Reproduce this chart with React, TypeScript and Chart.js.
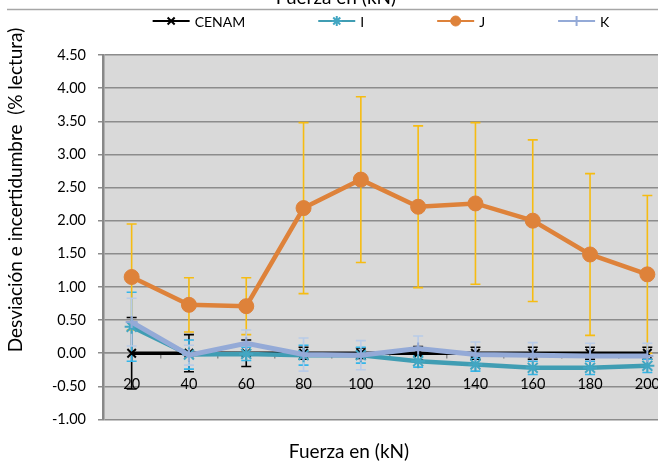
import React, { useEffect, useRef } from "react";
import { Chart, registerables } from "chart.js";
import { drawPoint } from "chart.js/helpers";

Chart.register(...registerables);

// Load steps (kN)
const categories = ["20", "40", "60", "80", "100", "120", "140", "160", "180", "200"];

// Deviation per laboratory (% of reading)
const cenam = [0, 0, 0, 0, 0, 0, 0, 0, 0, 0];
const labI = [0.4, -0.02, -0.01, -0.03, -0.03, -0.12, -0.17, -0.22, -0.22, -0.19];
const labJ = [1.15, 0.73, 0.71, 2.19, 2.62, 2.21, 2.26, 2.0, 1.49, 1.19];
const labK = [0.47, -0.03, 0.15, -0.02, -0.03, 0.07, -0.02, -0.03, -0.04, -0.04];

// Expanded uncertainty per laboratory (% of reading)
const cenamErr = [0.54, 0.28, 0.2, 0.09, 0.08, 0.1, 0.09, 0.09, 0.09, 0.09];
const labIErr = [0.52, 0.22, 0.1, 0.15, 0.12, 0.09, 0.1, 0.1, 0.1, 0.1];
const labJErr = [0.8, 0.41, 0.43, 1.29, 1.25, 1.22, 1.22, 1.22, 1.22, 1.19];
const labKErr = [0.36, 0.15, 0.2, 0.25, 0.22, 0.19, 0.19, 0.19, 0.19, 0.19];

// Value axis range
const yMin = -1;
const yMax = 4.5;
const yStep = 0.5;

const axisTitle = "Fuerza en (kN)";
const valueTitle = "Desviación e incertidumbre  (% lectura)";

const FONT = "Lato, 'Noto Sans', sans-serif";

const plotBackground = {
  id: "plotBackground",
  beforeDraw(chart: any) {
    const { ctx, chartArea } = chart;
    ctx.save();
    ctx.fillStyle = "#d9d9d9";
    ctx.fillRect(chartArea.left, chartArea.top, chartArea.right - chartArea.left, chartArea.bottom - chartArea.top);
    ctx.restore();
  },
};

const errorBars = {
  id: "errorBars",
  beforeDatasetsDraw(chart: any) {
    const { ctx } = chart;
    const yScale = chart.scales.y;
    chart.data.datasets.forEach((ds: any, i: number) => {
      const meta = chart.getDatasetMeta(i);
      if (!ds.errors) return;
      ctx.save();
      ctx.strokeStyle = ds.errorColor;
      ctx.lineWidth = 1.6;
      meta.data.forEach((pt: any, j: number) => {
        const v = ds.data[j];
        const e = ds.errors[j];
        const x = pt.x;
        const yTop = yScale.getPixelForValue(v + e);
        const yBot = yScale.getPixelForValue(v - e);
        const cap = 5;
        ctx.beginPath();
        ctx.moveTo(x, yTop);
        ctx.lineTo(x, yBot);
        ctx.moveTo(x - cap, yTop);
        ctx.lineTo(x + cap, yTop);
        ctx.moveTo(x - cap, yBot);
        ctx.lineTo(x + cap, yBot);
        ctx.stroke();
      });
      ctx.restore();
    });
  },
};

const legendAndTitles = {
  id: "legendAndTitles",
  afterDraw(chart: any) {
    const { ctx, width } = chart;
    ctx.save();

    // rule under the upper caption
    ctx.strokeStyle = "#a6a6a6";
    ctx.lineWidth = 1.5;
    ctx.beginPath();
    ctx.moveTo(7, 9.5);
    ctx.lineTo(width, 9.5);
    ctx.stroke();

    ctx.fillStyle = "#000";
    ctx.font = `19px ${FONT}`;
    ctx.textAlign = "center";
    ctx.textBaseline = "alphabetic";
    ctx.fillText(axisTitle, 336, 4);
    ctx.fillText(axisTitle, 349, 458);

    // rotated value-axis caption
    ctx.save();
    ctx.translate(16, 190);
    ctx.rotate(-Math.PI / 2);
    ctx.textBaseline = "middle";
    ctx.fillText(valueTitle, 0, 0);
    ctx.restore();

    // legend row
    ctx.font = `14px ${FONT}`;
    const lineLen = 37;
    const textGap = 5;
    const spacing = 73;
    const items = chart.data.datasets.map((ds: any) => ({
      ds,
      w: lineLen + textGap + ctx.measureText(ds.label).width,
    }));
    const total = items.reduce((s: number, it: any) => s + it.w, 0) + spacing * (items.length - 1);
    let x = 381 - total / 2;
    const y = 21;
    items.forEach((it: any) => {
      const ds = it.ds;
      ctx.strokeStyle = ds.borderColor;
      ctx.lineWidth = 2;
      ctx.beginPath();
      ctx.moveTo(x, y);
      ctx.lineTo(x + lineLen, y);
      ctx.stroke();
      ctx.fillStyle = ds.pointBackgroundColor;
      ctx.strokeStyle = ds.pointBorderColor;
      ctx.lineWidth = ds.pointBorderWidth;
      drawPoint(
        ctx,
        { pointStyle: ds.pointStyle, radius: ds.legendRadius, borderWidth: ds.pointBorderWidth, rotation: 0 },
        x + lineLen / 2,
        y
      );
      ctx.fillStyle = "#000";
      ctx.textAlign = "left";
      ctx.textBaseline = "middle";
      ctx.fillText(ds.label, x + lineLen + textGap, y + 1);
      x += it.w + spacing;
    });
    ctx.restore();
  },
};

export default function App() {
  const canvasRef = useRef<HTMLCanvasElement | null>(null);

  useEffect(() => {
    const canvas = canvasRef.current;
    if (!canvas) return;
    const gridColor = "#8c8c8c";
    const chart = new Chart(canvas, {
      type: "line",
      data: {
        labels: categories,
        datasets: [
          {
            label: "CENAM",
            data: cenam,
            errors: cenamErr,
            errorColor: "#000000",
            borderColor: "#000000",
            borderWidth: 3.5,
            pointStyle: "crossRot",
            pointRadius: 6,
            legendRadius: 5,
            pointBorderWidth: 2,
            pointBackgroundColor: "#000000",
            pointBorderColor: "#000000",
            tension: 0,
            order: 4,
          },
          {
            label: "I",
            data: labI,
            errors: labIErr,
            errorColor: "#33b5ea",
            borderColor: "#409db3",
            borderWidth: 4.5,
            pointStyle: "star",
            pointRadius: 7,
            legendRadius: 5,
            pointBorderWidth: 2,
            pointBackgroundColor: "#409db3",
            pointBorderColor: "#42a6c2",
            tension: 0,
            order: 3,
          },
          {
            label: "J",
            data: labJ,
            errors: labJErr,
            errorColor: "#f6bc12",
            borderColor: "#de823a",
            borderWidth: 4.5,
            pointStyle: "circle",
            pointRadius: 7.5,
            legendRadius: 5,
            pointBorderWidth: 1,
            pointBackgroundColor: "#de823a",
            pointBorderColor: "#de823a",
            tension: 0,
            order: 1,
          },
          {
            label: "K",
            data: labK,
            errors: labKErr,
            errorColor: "#b8cbe8",
            borderColor: "#94aad7",
            borderWidth: 5,
            pointStyle: "cross",
            pointRadius: 6,
            legendRadius: 5,
            pointBorderWidth: 2,
            pointBackgroundColor: "#94aad7",
            pointBorderColor: "#94aad7",
            tension: 0,
            order: 2,
          },
        ] as any,
      },
      options: {
        responsive: false,
        animation: false,
        layout: { padding: { top: 55, left: 0, right: 14, bottom: 46.5 } },
        plugins: {
          legend: { display: false },
          title: { display: false },
          tooltip: { enabled: false },
        },
        scales: {
          x: {
            type: "category",
            position: { y: 0 } as any,
            offset: true,
            grid: {
              offset: true,
              drawOnChartArea: false,
              drawTicks: true,
              tickLength: 5,
              color: gridColor,
              lineWidth: 1.5,
            },
            border: { display: true, color: gridColor, width: 1.5 },
            ticks: {
              color: "#000",
              font: { family: FONT, size: 14.5 },
              padding: 17,
              maxRotation: 0,
              autoSkip: false,
            },
          },
          y: {
            position: "left",
            min: yMin,
            max: yMax,
            grid: { color: gridColor, lineWidth: 1.5, drawTicks: true, tickLength: 5 },
            border: { display: true, color: "#888888", width: 2.5 },
            ticks: {
              stepSize: yStep,
              color: "#000",
              font: { family: FONT, size: 14.5 },
              padding: 12,
              callback: (v: any) => Number(v).toFixed(2),
            },
            afterFit: (scale: any) => {
              scale.width = 103;
            },
          },
        },
      },
      plugins: [plotBackground, errorBars, legendAndTitles],
    });
    return () => chart.destroy();
  }, []);

  return (
    <div
      style={{
        position: "fixed",
        left: 0,
        top: 0,
        width: 658,
        height: 466,
        overflow: "hidden",
        background: "#fff",
      }}
    >
      <canvas ref={canvasRef} width={690} height={466} style={{ display: "block" }} />
    </div>
  );
}
